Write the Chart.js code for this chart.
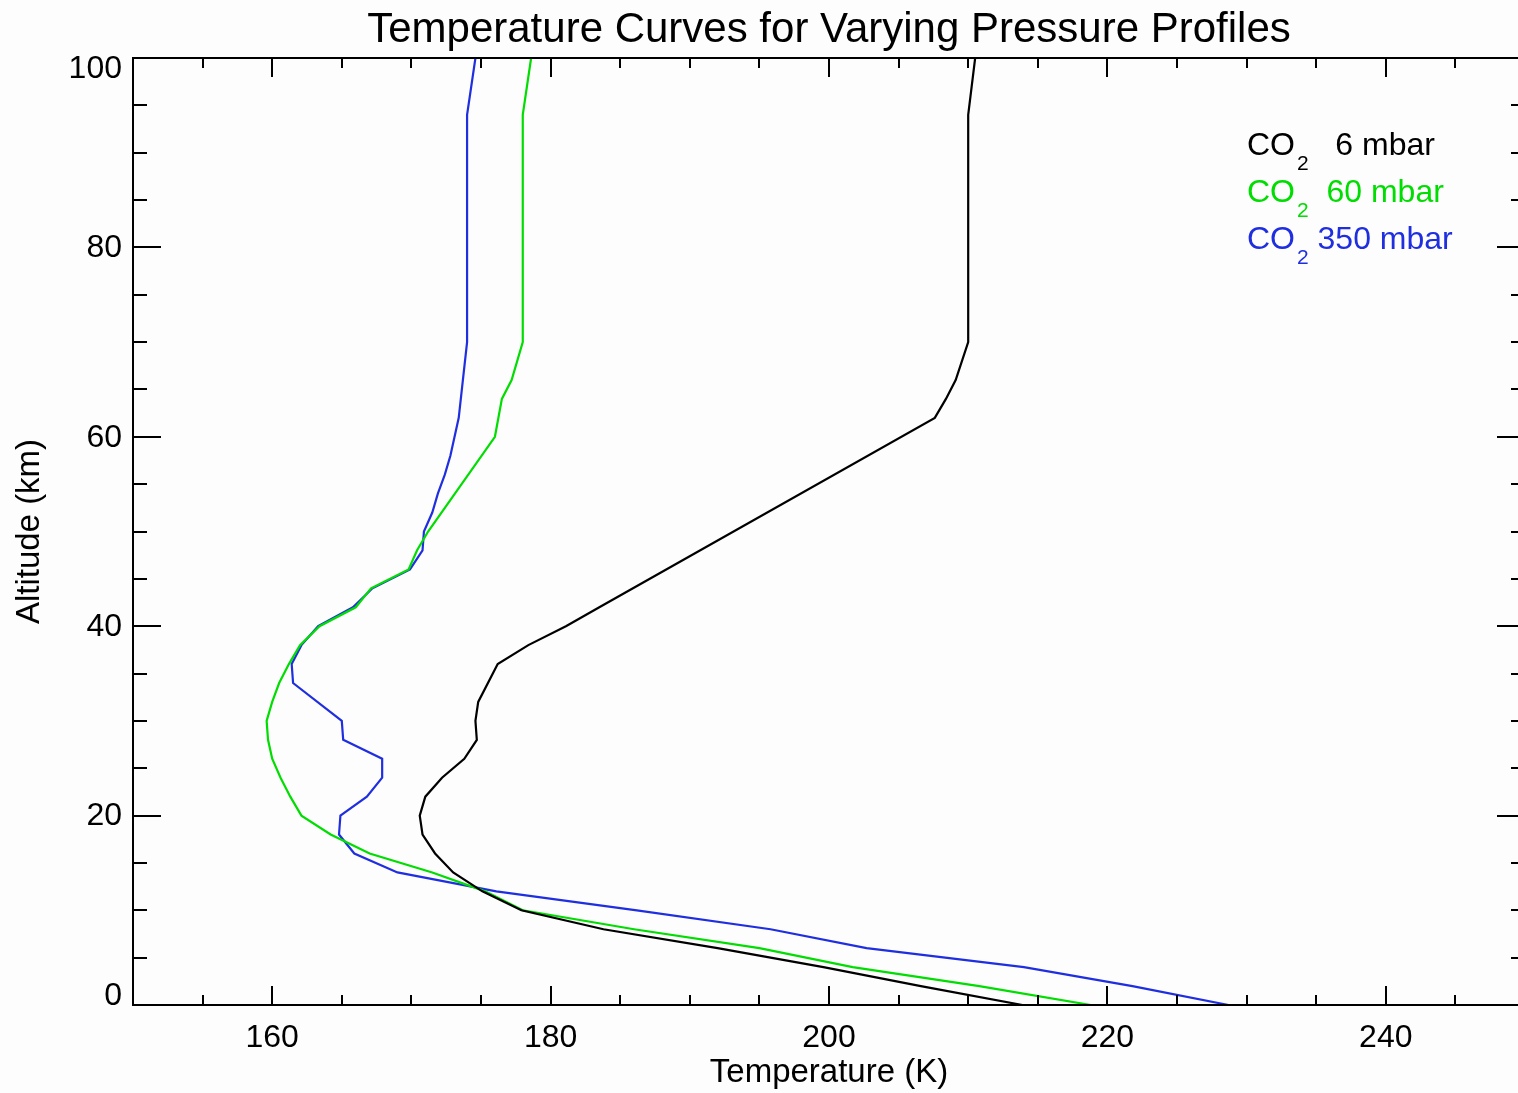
<!DOCTYPE html>
<html>
<head>
<meta charset="utf-8">
<title>Temperature Curves for Varying Pressure Profiles</title>
<script src="https://cdn.jsdelivr.net/npm/chart.js@4.4.1/dist/chart.umd.min.js"></script>
<style>
  body { margin: 0; overflow: hidden; background: #fdfdfd; }
  #wrap { width: 1530px; height: 1093px; }
</style>
</head>
<body>
<div id="wrap"><canvas id="chart" width="1530" height="1093"></canvas></div>
<script>
// Profile data (altitude in km, temperature in K)
const alt6 = [0, 2, 4, 6, 8, 10, 12, 14, 16, 18, 20, 22, 24, 26, 28, 30, 32, 36, 38, 40, 42, 62, 64, 66, 70, 94, 100];
const temp6 = [213.9, 206.6, 199.6, 192.0, 183.8, 177.9, 175.1, 173.0, 171.7, 170.8, 170.6, 171.0, 172.2, 173.8, 174.7, 174.6, 174.8, 176.2, 178.4, 181.1, 183.5, 207.6, 208.4, 209.1, 210.0, 210.0, 210.5];

const alt60 = [0, 2, 4, 6, 8, 10, 12, 14, 16, 18, 20, 22, 24, 26, 28, 30, 32, 34, 36, 38, 40, 42, 44, 46, 48, 50, 60, 64, 66, 70, 94, 100];
const temp60 = [218.8, 210.8, 201.7, 195.0, 186.0, 178.0, 175.3, 171.5, 167.0, 164.2, 162.1, 161.3, 160.6, 160.0, 159.7, 159.6, 160.0, 160.5, 161.2, 162.0, 163.4, 166.0, 167.1, 169.8, 170.4, 171.2, 176.0, 176.5, 177.2, 178.0, 178.0, 178.6];

const alt350 = [0, 2, 4, 6, 8, 10, 12, 14, 16, 18, 20, 22, 24, 26, 28, 30, 34, 36, 38, 40, 42, 44, 46, 48, 50, 52, 54, 56, 58, 62, 66, 70, 94, 100];
const temp350 = [228.7, 221.8, 214.0, 202.7, 195.8, 186.2, 176.1, 169.0, 165.9, 164.8, 164.9, 166.8, 167.9, 167.9, 165.1, 165.0, 161.5, 161.4, 162.1, 163.3, 165.8, 167.2, 169.9, 170.8, 170.9, 171.5, 171.9, 172.4, 172.8, 173.4, 173.7, 174.0, 174.0, 174.6];

const seriesLabels = ['   6 mbar', '  60 mbar', ' 350 mbar'];
const seriesColors = ['#000000', '#00dd00', '#1f2fe0'];

const xTickLabels = [160, 180, 200, 220, 240];
const yTickLabels = [0, 20, 40, 60, 80, 100];

const chartTitle = 'Temperature Curves for Varying Pressure Profiles';
const fontName = '"Liberation Sans", Arial, Helvetica, sans-serif';

function toPoints(temps, alts) {
  return temps.map((t, i) => ({ x: t, y: alts[i] }));
}

// Frame, inward ticks, y labels, title and legend in IDL style
const idlFrame = {
  id: 'idlFrame',
  afterDraw(chart) {
    const ctx = chart.ctx;
    const area = chart.chartArea;
    const xs = chart.scales.x;
    const ys = chart.scales.y;
    ctx.save();
    ctx.strokeStyle = '#000';
    ctx.lineWidth = 2;
    ctx.strokeRect(area.left, area.top, area.right - area.left, area.bottom - area.top);

    // x ticks every 5 K, top and bottom
    ctx.beginPath();
    for (let v = xs.min + 5; v < xs.max; v += 5) {
      const px = Math.round(xs.getPixelForValue(v));
      const len = (v - 160) % 20 === 0 ? 19 : 10;
      ctx.moveTo(px, area.bottom);
      ctx.lineTo(px, area.bottom - len);
      ctx.moveTo(px, area.top);
      ctx.lineTo(px, area.top + len);
    }
    // y ticks every 5 km, left and right
    for (let v = ys.min + 5; v < ys.max; v += 5) {
      const py = Math.round(ys.getPixelForValue(v));
      const len = v % 20 === 0 ? 28 : 14;
      ctx.moveTo(area.left, py);
      ctx.lineTo(area.left + len, py);
      ctx.moveTo(area.right, py);
      ctx.lineTo(area.right - len, py);
    }
    ctx.stroke();

    // y tick labels (end labels kept inside the frame)
    ctx.fillStyle = '#000';
    ctx.font = '32px ' + fontName;
    ctx.textAlign = 'right';
    ctx.textBaseline = 'middle';
    yTickLabels.forEach(v => {
      let py = ys.getPixelForValue(v);
      if (v === ys.min) py -= 10;
      if (v === ys.max) py += 10;
      ctx.fillText(String(v), area.left - 11, py + 1);
    });

    // title
    ctx.font = '42px ' + fontName;
    ctx.textAlign = 'center';
    ctx.textBaseline = 'alphabetic';
    ctx.fillText(chartTitle, (area.left + area.right) / 2, 42);

    // legend with CO2 subscript
    ctx.textAlign = 'left';
    const lx = 1247;
    const baselines = [155, 202, 249];
    seriesLabels.forEach((label, i) => {
      ctx.fillStyle = seriesColors[i];
      ctx.font = '32px ' + fontName;
      ctx.fillText('CO', lx, baselines[i]);
      let x = lx + ctx.measureText('CO').width + 2;
      ctx.font = '21px ' + fontName;
      ctx.fillText('2', x, baselines[i] + 15);
      x += ctx.measureText('2').width;
      ctx.font = '32px ' + fontName;
      ctx.fillText(label, x, baselines[i]);
    });
    ctx.restore();
  }
};

const ctx = document.getElementById('chart').getContext('2d');
const chart = new Chart(ctx, {
  type: 'scatter',
  data: {
    datasets: [
      { label: 'CO2 6 mbar', data: toPoints(temp6, alt6), borderColor: seriesColors[0] },
      { label: 'CO2 60 mbar', data: toPoints(temp60, alt60), borderColor: seriesColors[1] },
      { label: 'CO2 350 mbar', data: toPoints(temp350, alt350), borderColor: seriesColors[2] }
    ].map(d => Object.assign(d, { showLine: true, pointRadius: 0, borderWidth: 2.2, tension: 0, fill: false }))
  },
  options: {
    responsive: false,
    animation: false,
    layout: { padding: { top: 58, left: 0, right: 5, bottom: 0 } },
    plugins: {
      legend: { display: false },
      title: { display: false },
      tooltip: { enabled: false }
    },
    scales: {
      x: {
        type: 'linear',
        min: 150,
        max: 250,
        grid: { display: false, drawTicks: false },
        border: { display: false },
        afterBuildTicks: s => { s.ticks = xTickLabels.map(v => ({ value: v })); },
        afterFit: s => { s.height = 88; },
        ticks: { color: '#000', padding: 14, maxRotation: 0, font: { family: fontName, size: 32 } },
        title: {
          display: true,
          text: 'Temperature (K)',
          color: '#000',
          padding: { top: 0, bottom: 0 },
          font: { family: fontName, size: 33 }
        }
      },
      y: {
        type: 'linear',
        min: 0,
        max: 100,
        grid: { display: false, drawTicks: false },
        border: { display: false },
        ticks: { display: false },
        afterFit: s => { s.width = 133; },
        title: {
          display: true,
          text: 'Altitude (km)',
          color: '#000',
          padding: { top: 10, bottom: 0 },
          font: { family: fontName, size: 33 }
        }
      }
    }
  },
  plugins: [idlFrame]
});
</script>
</body>
</html>
